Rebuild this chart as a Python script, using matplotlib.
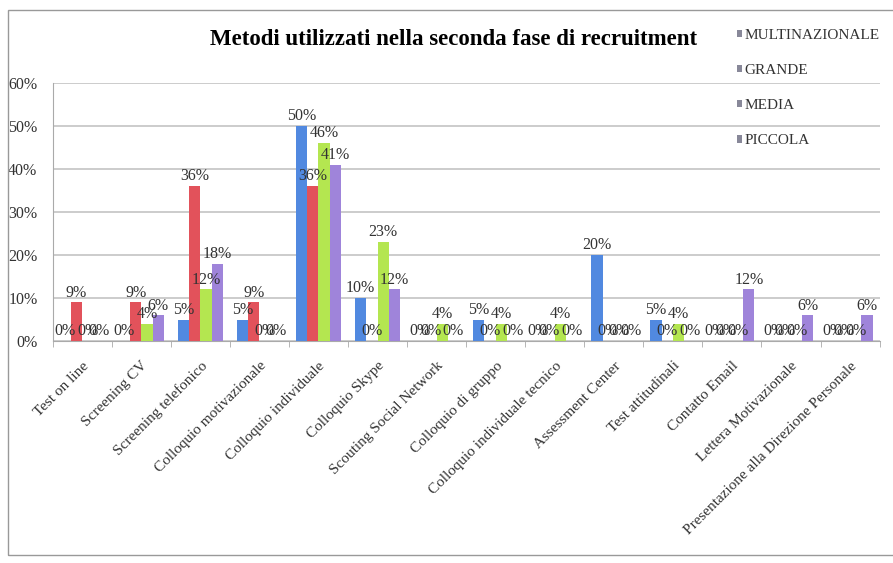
import matplotlib.pyplot as plt
import numpy as np
from matplotlib.patches import Rectangle, Patch
from matplotlib.ticker import PercentFormatter

plt.rcParams['font.family'] = ['Liberation Serif', 'DejaVu Serif']

categories = ['Test on line', 'Screening CV', 'Screening telefonico',
              'Colloquio motivazionale', 'Colloquio individuale', 'Colloquio Skype',
              'Scouting Social Network', 'Colloquio di gruppo',
              'Colloquio individuale tecnico', 'Assessment Center',
              'Test attitudinali', 'Contatto Email', 'Lettera Motivazionale',
              'Presentazione alla Direzione Personale']
multinazionale = [0, 0, 5, 5, 50, 10, 0, 5, 0, 20, 5, 0, 0, 0]
grande = [9, 9, 36, 9, 36, 0, 0, 0, 0, 0, 0, 0, 0, 0]
media = [0, 4, 12, 0, 46, 23, 4, 4, 4, 0, 4, 0, 0, 0]
piccola = [0, 6, 18, 0, 41, 12, 0, 0, 0, 0, 0, 12, 6, 6]

series = [('MULTINAZIONALE', multinazionale, '#5189e0'),
          ('GRANDE', grande, '#e2525b'),
          ('MEDIA', media, '#b4e650'),
          ('PICCOLA', piccola, '#9f84da')]

fig = plt.figure(figsize=(8.93, 5.63), dpi=100)
ax = fig.add_axes([0.059, 0.394, 0.926, 0.459])

x = np.arange(len(categories))
w = 0.19
for i, (name, vals, col) in enumerate(series):
    pos = x + (i - 1.5) * w
    v = np.array(vals) / 100
    ax.bar(pos, v, width=w, color=col, zorder=3)
    for px, pv in zip(pos, vals):
        ax.text(px, pv / 100 + 0.004, f'{pv}%', ha='center', va='bottom',
                fontsize=11.5, color='#333333', zorder=4)

ax.set_xlim(-0.5, len(categories) - 0.5)
ax.set_ylim(0, 0.6)
ax.set_yticks(np.arange(0, 0.61, 0.1))
ax.yaxis.set_major_formatter(PercentFormatter(1.0, decimals=0))
ax.grid(axis='y', color='#c8c8c8', lw=1.3, zorder=0)
ax.set_xticks(x)
ax.set_xticklabels(categories, rotation=45, ha='right', rotation_mode='anchor',
                   fontsize=11, color='#333333')
ax.set_xticks(np.arange(-0.5, len(categories), 1), minor=True)
ax.tick_params(axis='x', which='major', length=0, pad=13)
ax.tick_params(axis='x', which='minor', length=4, color='#aaaaaa')
ax.tick_params(axis='y', length=0, labelsize=11.5, labelcolor='#333333', pad=11)
for s in ['top', 'right']:
    ax.spines[s].set_visible(False)
ax.spines['left'].set_color('#aaaaaa')
ax.spines['bottom'].set_color('#aaaaaa')

fig.text(0.508, 0.93, 'Metodi utilizzati nella seconda fase di recruitment',
         ha='center', va='center', fontsize=16.5, fontweight='bold')

handles = [Patch(facecolor='#888899', label=name) for name, _, _ in series]
fig.legend(handles=handles, loc='upper left', bbox_to_anchor=(0.81, 0.973),
           frameon=False, fontsize=11, handlelength=0.35, handleheight=0.35,
           handletextpad=0.15, labelspacing=1.45, labelcolor='#333333')

fig.patches.append(Rectangle((0.009, 0.014), 1.1, 0.968, transform=fig.transFigure,
                             fill=False, edgecolor='#999999', lw=1))

fig.savefig('out.png', dpi=100)
